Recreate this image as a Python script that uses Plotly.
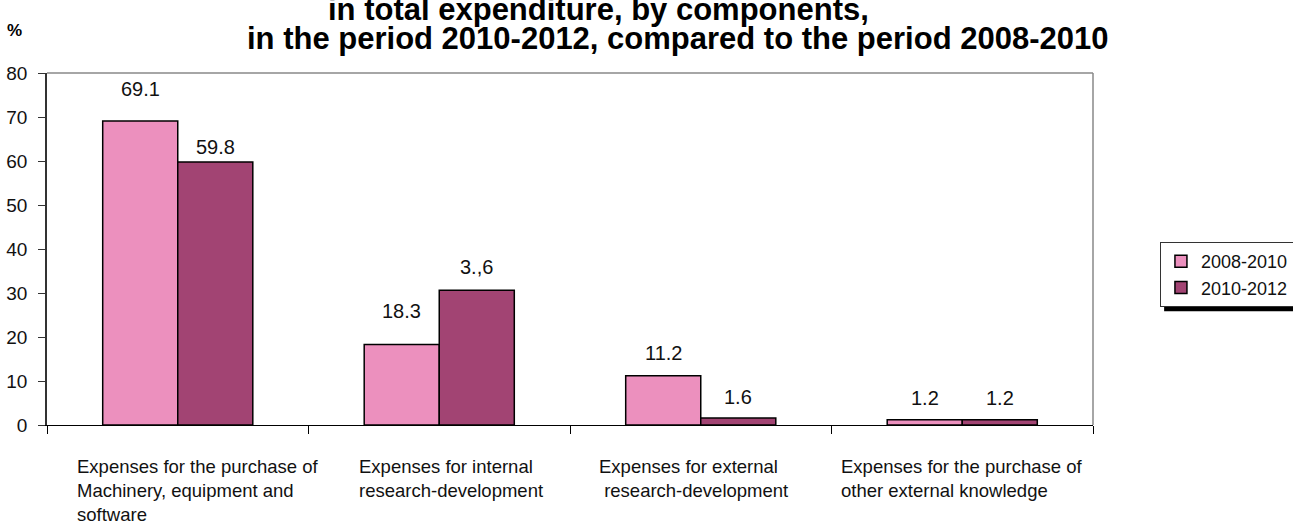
import plotly.graph_objects as go

# ---- data ----
categories = [
    "Expenses for the purchase of<br>Machinery, equipment and<br>software",
    "Expenses for internal<br>research-development",
    "Expenses for external<br> research-development",
    "Expenses for the purchase of<br>other external knowledge",
]
series_names = ["2008-2010", "2010-2012"]
values_2008_2010 = [69.1, 18.3, 11.2, 1.2]
values_2010_2012 = [59.8, 30.6, 1.6, 1.2]
labels_2008_2010 = ["69.1", "18.3", "11.2", "1.2"]
labels_2010_2012 = ["59.8", "3.,6", "1.6", "1.2"]
y_ticks = [0, 10, 20, 30, 40, 50, 60, 70, 80]
title_lines = [
    "in total expenditure, by components,",
    "in the period 2010-2012, compared to the period 2008-2010",
]
y_unit = "%"

# ---- styling ----
FONT = "Liberation Sans, Arial, sans-serif"
colors = ["#EC90BE", "#A24473"]
label_yshift = [[32, 33, 23, 22], [15, 23, 21, 22]]
label_xshift = [-37.5, 37.5]
cat_label_xshift = [-103, -82, -104, -123]

fig = go.Figure()
for name, vals, col in zip(series_names, [values_2008_2010, values_2010_2012], colors):
    fig.add_trace(go.Bar(
        x=categories, y=vals, name=name,
        marker=dict(color=col, line=dict(color="black", width=1.5)),
    ))

annotations = []
for s, labs in enumerate([labels_2008_2010, labels_2010_2012]):
    vals = [values_2008_2010, values_2010_2012][s]
    for i, (c, v, t) in enumerate(zip(categories, vals, labs)):
        annotations.append(dict(
            x=c, y=v, xref="x", yref="y", text=t, showarrow=False,
            xshift=label_xshift[s], yshift=label_yshift[s][i],
            yanchor="middle", xanchor="center",
            font=dict(family=FONT, size=20, color="#111"),
        ))

for i, c in enumerate(categories):
    annotations.append(dict(
        x=c, y=-0.083, xref="x", yref="paper", text=c, showarrow=False,
        xanchor="left", yanchor="top", align="left", xshift=cat_label_xshift[i],
        font=dict(family=FONT, size=18.5, color="#111"),
    ))

annotations.append(dict(
    x=0.5268, y=1.179, xref="paper", yref="paper", text="<b>%s</b>" % title_lines[0],
    showarrow=False, xanchor="center", yanchor="middle",
    font=dict(family=FONT, size=31, color="black"),
))
annotations.append(dict(
    x=0.6023, y=1.0994, xref="paper", yref="paper", text="<b>%s</b>" % title_lines[1],
    showarrow=False, xanchor="center", yanchor="middle",
    font=dict(family=FONT, size=31, color="black"),
))
annotations.append(dict(
    x=-0.0306, y=1.122, xref="paper", yref="paper", text="<b>%s</b>" % y_unit,
    showarrow=False, xanchor="center", yanchor="middle",
    font=dict(family=FONT, size=17, color="black"),
))

shapes = [
    dict(type="line", xref="paper", yref="paper", x0=0, x1=1, y0=1, y1=1,
         line=dict(color="#888", width=1.5)),
    dict(type="line", xref="paper", yref="paper", x0=1, x1=1, y0=0, y1=1,
         line=dict(color="#888", width=1.5)),
    dict(type="rect", xref="paper", yref="paper", x0=1.068, x1=1.3, y0=0.323, y1=0.49,
         fillcolor="black", line=dict(width=0)),
]

fig.update_layout(
    width=1293, height=522,
    margin=dict(l=47, r=200, t=73, b=97, autoexpand=False),
    paper_bgcolor="white", plot_bgcolor="white",
    font=dict(family=FONT, size=18, color="#111"),
    barmode="group", bargap=0.426, bargroupgap=0,
    showlegend=True,
    legend=dict(x=1.064, y=0.52, xanchor="left", yanchor="top",
                bgcolor="white", bordercolor="#333", borderwidth=1,
                font=dict(family=FONT, size=18, color="#111")),
    annotations=annotations, shapes=shapes,
)
fig.update_xaxes(showline=True, linecolor="black", linewidth=1,
                 ticks="outside", tickson="boundaries", ticklen=8, tickcolor="black",
                 showticklabels=False, showgrid=False)
fig.update_yaxes(range=[0, 80], tickvals=y_ticks, showline=True, linecolor="#333",
                 linewidth=1.5, ticks="outside", ticklen=7, tickcolor="#333",
                 ticklabelstandoff=7, showgrid=False, zeroline=False,
                 tickfont=dict(family=FONT, size=19, color="#111"))

fig.write_html("out.html", config={"displayModeBar": False},
               post_script="document.body.style.margin='0';document.body.style.padding='0';")
